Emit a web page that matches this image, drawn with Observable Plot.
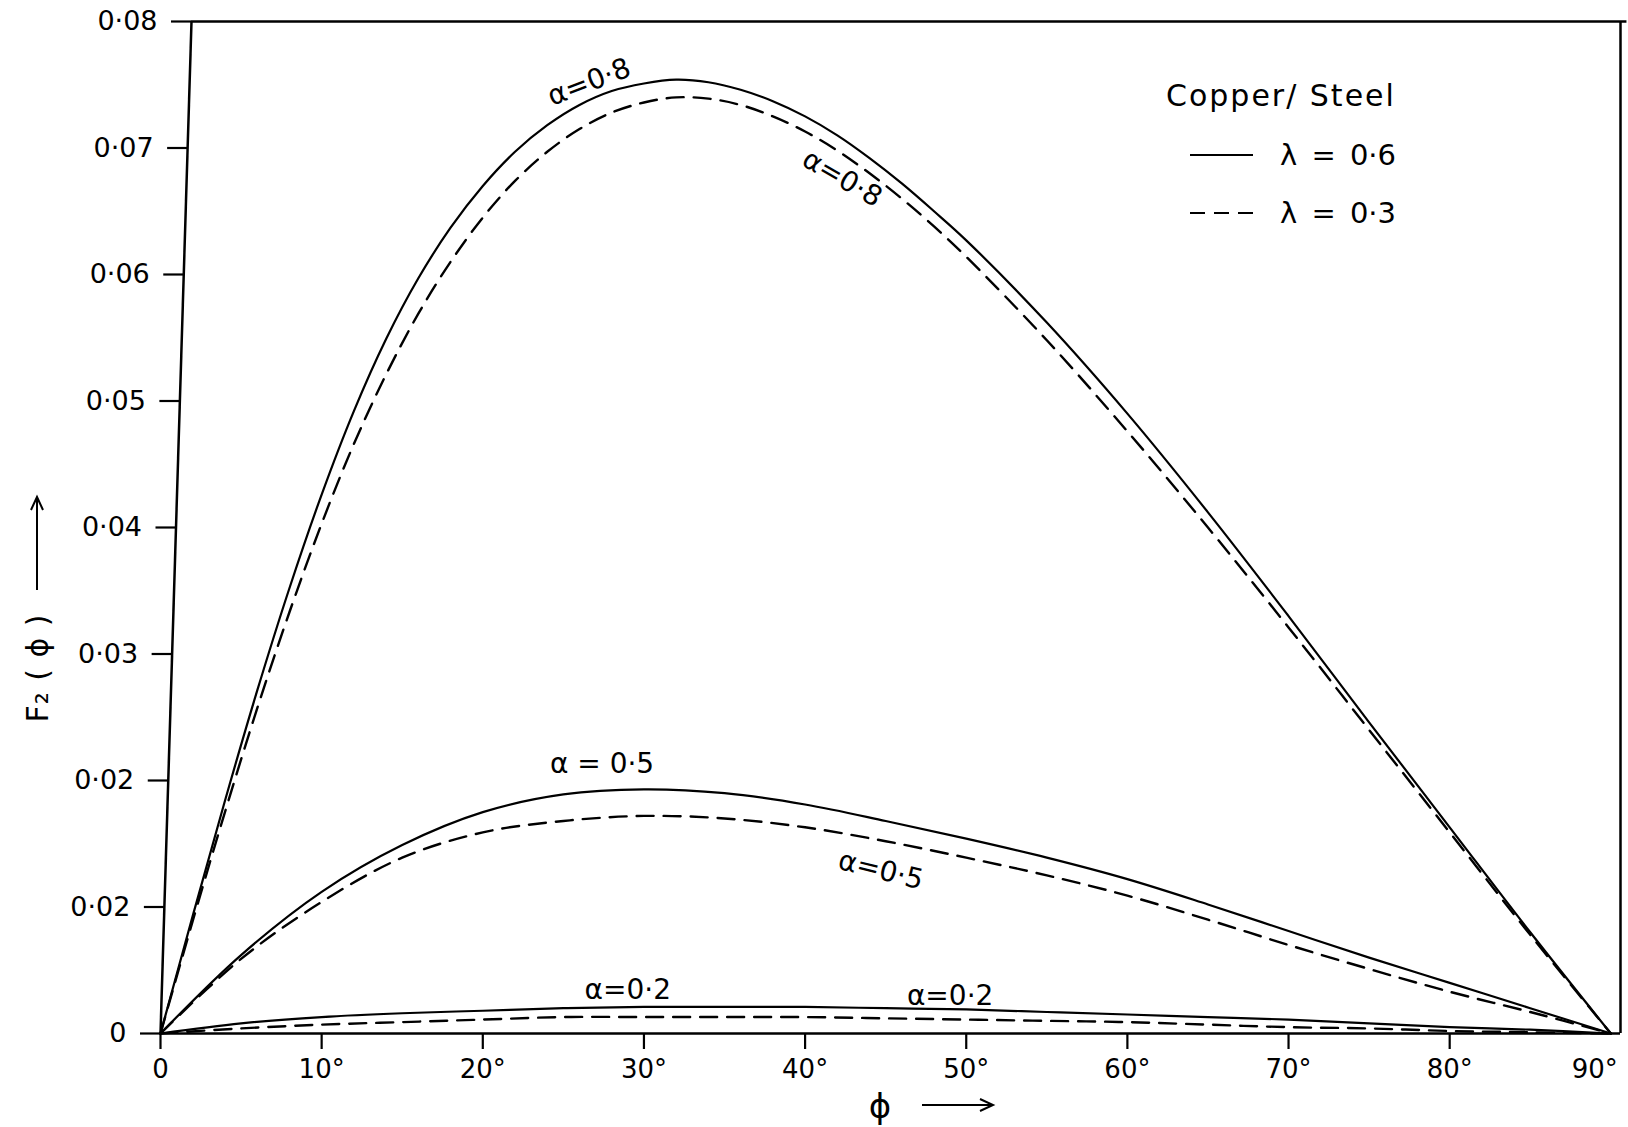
<!DOCTYPE html>
<html>
<head>
<meta charset="utf-8">
<script src="https://cdn.jsdelivr.net/npm/d3@7"></script>
<script src="https://cdn.jsdelivr.net/npm/@observablehq/plot@0.6"></script>
<style>
  html, body { margin: 0; padding: 0; background: #fff; }
  #wrap { position: relative; width: 1628px; height: 1127px; font-family: "DejaVu Sans", sans-serif; }
  #overlay { position: absolute; left: 0; top: 0; pointer-events: none; }
</style>
</head>
<body>
<div id="wrap"></div>
<script>
// ---- data ----
const phiFine = [0,2,4,6,8,10,12,14,16,18,20,22,24,26,28,30,32,34,36,38,40,42,44,46,48,50,55,60,65,70,75,80,85,90];
const phiCoarse = [0,5,10,15,20,25,30,35,40,45,50,55,60,65,70,75,80,85,90];

// alpha = 0.8
const a08_l06 = [0,0.0093,0.0184,0.0271,0.0352,0.0426,0.0492,0.0549,0.0597,0.0637,0.0670,0.0697,0.0718,0.0734,0.0745,0.0751,0.0754,0.0752,0.0746,0.0737,0.0725,0.0710,0.0692,0.0672,0.0650,0.0627,0.0562,0.0490,0.0412,0.0330,0.0246,0.0163,0.0080,0];
const a08_l03 = [0,0.0089,0.0175,0.0257,0.0333,0.0403,0.0466,0.0521,0.0569,0.0610,0.0645,0.0674,0.0697,0.0715,0.0728,0.0736,0.0740,0.0739,0.0734,0.0725,0.0713,0.0698,0.0680,0.0660,0.0638,0.0614,0.0548,0.0476,0.0400,0.0321,0.0240,0.0159,0.0078,0];
// alpha = 0.5
const a05_l06 = [0,0.0062,0.0112,0.0149,0.0175,0.0189,0.0193,0.0190,0.0181,0.0168,0.0154,0.0139,0.0122,0.0102,0.0081,0.0060,0.0040,0.0020,0];
const a05_l03 = [0,0.0059,0.0104,0.0139,0.0159,0.0168,0.0172,0.0170,0.0163,0.0152,0.0139,0.0125,0.0109,0.0090,0.0070,0.0051,0.0033,0.0017,0];
// alpha = 0.2
const a02_l06 = [0,0.0008,0.0013,0.0016,0.0018,0.0020,0.0021,0.0021,0.0021,0.0020,0.0019,0.0017,0.0015,0.0013,0.0011,0.0008,0.0005,0.0003,0];
const a02_l03 = [0,0.0004,0.0007,0.0009,0.0011,0.0013,0.0013,0.0013,0.0013,0.0012,0.0011,0.0010,0.0009,0.0007,0.0005,0.0004,0.0002,0.0001,0];

const xTicks = [0,10,20,30,40,50,60,70,80,90];
const xTickLabels = ["0","10°","20°","30°","40°","50°","60°","70°","80°","90°"];
const yTicks = [0,0.01,0.02,0.03,0.04,0.05,0.06,0.07,0.08];
const yTickLabels = ["0","0·02","0·02","0·03","0·04","0·05","0·06","0·07","0·08"];

const curveLabels = ["α=0·8","α=0·8","α = 0·5","α=0·5","α=0·2","α=0·2"];
const labelPhi = [26.6, 42.3, 27.4, 44.7, 29.0, 49.0];
const labelF = [0.0752, 0.0676, 0.0213, 0.0129, 0.0034, 0.0030];
const labelAngle = [-21, 30, 0, 14, 0, 0];

const legendTitle = "Copper/ Steel";
const legendLabels = ["λ = 0·6", "λ = 0·3"];
const xTitle = "ϕ";
const yTitle = "F₂ ( ϕ )";

// ---- build table ----
const series = [
  {key: "a08_l06", lambda: 0.6, phi: phiFine, F: a08_l06},
  {key: "a08_l03", lambda: 0.3, phi: phiFine, F: a08_l03},
  {key: "a05_l06", lambda: 0.6, phi: phiCoarse, F: a05_l06},
  {key: "a05_l03", lambda: 0.3, phi: phiCoarse, F: a05_l03},
  {key: "a02_l06", lambda: 0.6, phi: phiCoarse, F: a02_l06},
  {key: "a02_l03", lambda: 0.3, phi: phiCoarse, F: a02_l03}
];
const rows = series.flatMap(s => s.phi.map((p, i) => ({key: s.key, lambda: s.lambda, phi: p, F: s.F[i]})));
const solid = rows.filter(d => d.lambda === 0.6);
const dashed = rows.filter(d => d.lambda === 0.3);
const annotations = curveLabels.map((t, i) => ({t, phi: labelPhi[i], F: labelF[i], a: labelAngle[i]}));

// ---- layout / style ----
const font = "DejaVu Sans";
const W = 1628, H = 1127, mL = 160, mR = 8, mT = 21, mB = 94;
const xMax = 90.6, yMax = 0.08;
const pxPerDeg = (W - mR - mL) / xMax;
const axisLeanPx = 31;                      // the hand-drawn left axis leans right towards the top
const leanPx = v => axisLeanPx * v / yMax;  // pixel offset of the left axis at value v
const leanTopDeg = axisLeanPx / pxPerDeg;
const lastTick = xTicks[xTicks.length - 1];

const chart = Plot.plot({
  width: W, height: H,
  marginLeft: mL, marginRight: mR, marginTop: mT, marginBottom: mB,
  style: {background: "#fff", color: "#000", fontFamily: font},
  x: {domain: [0, xMax]},
  y: {domain: [0, yMax]},
  marks: [
    Plot.ruleY([0], {stroke: "#000", strokeWidth: 2.5}),
    Plot.ruleY([yMax], {x1: leanTopDeg, x2: xMax + 0.4, stroke: "#000", strokeWidth: 2.5, clip: false}),
    Plot.ruleX([xMax], {stroke: "#000", strokeWidth: 2.5}),
    Plot.link([0], {x1: 0, y1: 0, x2: leanTopDeg, y2: yMax, stroke: "#000", strokeWidth: 2.5}),
    Plot.axisX({ticks: xTicks.filter(t => t !== lastTick), tickFormat: d => xTickLabels[xTicks.indexOf(d)], tickSize: 16, tickPadding: 10, fontSize: 26, label: null, strokeWidth: 2.2}),
    Plot.axisX({ticks: [lastTick], tickFormat: d => xTickLabels[xTicks.indexOf(d)], tickSize: 0, tickPadding: 26, dx: -16, fontSize: 26, label: null}),
    ...yTicks.map(t => Plot.axisY({ticks: [t], tickFormat: d => yTickLabels[yTicks.indexOf(d)], dx: leanPx(t), tickSize: 20, tickPadding: 14, fontSize: 27, label: null, strokeWidth: 2.2})),
    Plot.line(solid, {x: "phi", y: "F", z: "key", curve: "catmull-rom", stroke: "#000", strokeWidth: 2.2}),
    Plot.line(dashed, {x: "phi", y: "F", z: "key", curve: "catmull-rom", stroke: "#000", strokeWidth: 2.4, strokeDasharray: "17,10"}),
    Plot.text(annotations, {x: "phi", y: "F", text: "t", rotate: d => d.a, fontSize: 28, fill: "#000"})
  ]
});
const wrap = document.getElementById("wrap");
wrap.appendChild(chart);

// overlay: legend and axis titles
const ov = d3.select(wrap).append("svg").attr("id", "overlay").attr("width", W).attr("height", H);
ov.append("text").attr("x", 1166).attr("y", 95).attr("dominant-baseline", "central")
  .attr("font-family", font).attr("font-size", 30).attr("letter-spacing", 2).text(legendTitle);
const rowsY = [155, 213];
legendLabels.forEach((lab, i) => {
  ov.append("line").attr("x1", 1190).attr("x2", 1253).attr("y1", rowsY[i]).attr("y2", rowsY[i])
    .attr("stroke", "#000").attr("stroke-width", 2.2)
    .attr("stroke-dasharray", i === 1 ? "15,9" : null);
  ov.append("text").attr("x", 1280).attr("y", rowsY[i]).attr("dominant-baseline", "central")
    .attr("font-family", font).attr("font-size", 29).attr("word-spacing", 5).text(lab);
});
// x-axis title with arrow
ov.append("text").attr("x", 880).attr("y", 1106).attr("text-anchor", "middle").attr("dominant-baseline", "central")
  .attr("font-family", font).attr("font-size", 34).text(xTitle);
ov.append("line").attr("x1", 922).attr("x2", 993).attr("y1", 1105).attr("y2", 1105).attr("stroke", "#000").attr("stroke-width", 2);
ov.append("polyline").attr("points", "980,1099 993,1105 980,1111").attr("fill", "none").attr("stroke", "#000").attr("stroke-width", 2);
// y-axis title with arrow
ov.append("text").attr("transform", "translate(37,668) rotate(-90)").attr("text-anchor", "middle").attr("dominant-baseline", "central")
  .attr("font-family", font).attr("font-size", 30).attr("letter-spacing", 1).text(yTitle);
ov.append("line").attr("x1", 37).attr("x2", 37).attr("y1", 590).attr("y2", 497).attr("stroke", "#000").attr("stroke-width", 2);
ov.append("polyline").attr("points", "31,510 37,497 43,510").attr("fill", "none").attr("stroke", "#000").attr("stroke-width", 2);
</script>
</body>
</html>
